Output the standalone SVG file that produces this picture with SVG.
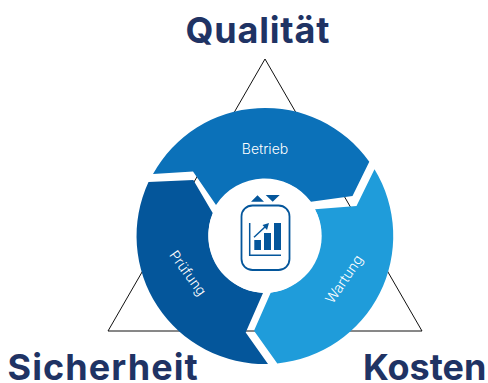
<svg xmlns="http://www.w3.org/2000/svg" width="488" height="383" viewBox="0 0 488 383">
<style>
.t{font-family:"Inter","Liberation Sans",sans-serif;font-weight:700;font-size:36px;fill:#1f3364}
.l{font-family:"Inter","Liberation Sans",sans-serif;font-weight:300;font-size:14px;fill:#fff;text-anchor:middle}
.i{fill:#04569b}
</style>
<rect width="488" height="383" fill="#fff"/>
<g id="connectors"><path d="M265 59L422 331H108Z" fill="none" stroke="#111" stroke-width="1"/></g>
<g id="betrieb"><path d="M153 174L193 171.500L216 205A58 58 0 0 1 311 201.700L352.500 196L369.300 161.700A128 128 0 0 0 153 174Z" fill="#0b71b9"/><text class="l" x="265" y="154">Betrieb</text></g>
<g id="wartung"><path d="M374.500 169.300L356.500 206L315 209.300A58 58 0 0 1 270.700 292.700L254 330.700L277.300 363.400A128 128 0 0 0 374.500 169.300Z" fill="#1f9cda"/><text class="l" transform="translate(344 279) rotate(-56)" y="5">Wartung</text></g>
<g id="pruefung"><path d="M268 364L245.700 332.500L263 292.900A58 58 0 0 1 212.700 213L193.300 180L148.500 182A128 128 0 0 0 268 364Z" fill="#04569b"/><text class="l" transform="translate(188 273) rotate(54)" y="5">Prüfung</text></g>
<g id="center"><circle cx="265" cy="236" r="56.700" fill="#fff"/><rect x="241.500" y="205.500" width="48" height="64.500" rx="11" fill="none" stroke="#04569b" stroke-width="1.800"/>
<path class="i" d="M251 201.700H264L257.500 195.300ZM265.700 195H279.700L272.700 201.700Z"/>
<path d="M249.700 223V255.200H281" fill="none" stroke="#04569b" stroke-width="1.500"/>
<path class="i" d="M254.300 240H261V250H254.300ZM264 233H271V250H264ZM274 223H281V250H274Z"/>
<path d="M254 237.300L266 226" fill="none" stroke="#04569b" stroke-width="1.500"/><path class="i" d="M269 223L262.500 225L267 230Z"/></g>
<g id="qualitaet"><text class="t" x="185.500" y="43" letter-spacing="0.8">Qualität</text></g>
<g id="sicherheit"><text class="t" x="7.500" y="379.500" letter-spacing="1.100">Sicherheit</text></g>
<g id="kosten"><text class="t" x="363" y="379.500">Kosten</text></g>
</svg>
